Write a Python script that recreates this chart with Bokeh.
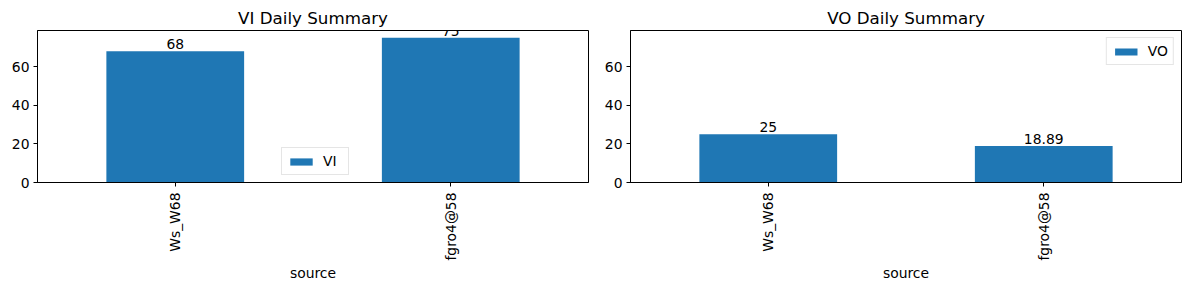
import math
from bokeh.plotting import figure
from bokeh.models import Range1d, FixedTicker, Legend, LegendItem, Label, ColumnDataSource
from bokeh.layouts import row
from bokeh.embed import file_html
from bokeh.resources import INLINE

sources = ["Ws_W68", "fgro4@58"]
vi_values = [68, 75]
vo_values = [25, 18.89]
y_ticks = [0, 20, 40, 60]
y_max = 78.75

FONT = "DejaVu Sans"
BAR = "#1f77b4"


def make(title, values, series, width, bl, br, legend_loc):
    n = len(sources)
    pos = [i + 0.5 for i in range(n)]
    p = figure(width=width, height=290, x_range=Range1d(0, n),
               y_range=Range1d(0, y_max), output_backend="svg", toolbar_location=None,
               min_border_left=bl, min_border_right=br, min_border_top=30, min_border_bottom=108)
    src = ColumnDataSource(dict(x=pos, y=values, name=sources))
    r = p.vbar(x="x", top="y", width=0.5, source=src, color=BAR, line_color=None)
    for x, v in zip(pos, values):
        p.add_layout(Label(x=x, y=v, text="{:g}".format(v),
                           text_align="center", text_baseline="bottom", y_offset=2,
                           text_font=FONT, text_font_size="13.9px", text_color="black"))
    p.title.text = title
    p.title.align = "center"
    p.title.text_font = FONT
    p.title.text_font_size = "16.7px"
    p.title.text_font_style = "normal"
    p.title.text_color = "black"
    p.title.standoff = 5
    p.xgrid.visible = False
    p.ygrid.visible = False
    p.outline_line_color = "black"
    p.outline_line_width = 1
    p.outline_line_alpha = 1
    for ax in (p.xaxis[0], p.yaxis[0]):
        ax.major_tick_in = 0
        ax.major_tick_out = 4
        ax.minor_tick_in = 0
        ax.minor_tick_out = 0
        ax.axis_line_color = "black"
        ax.major_tick_line_color = "black"
        ax.major_label_text_font = FONT
        ax.major_label_text_font_size = "13.9px"
        ax.major_label_text_color = "black"
    p.yaxis.ticker = FixedTicker(ticks=y_ticks)
    p.yaxis.major_label_standoff = 4
    p.xaxis.ticker = FixedTicker(ticks=pos)
    p.xaxis.major_label_overrides = {x: s for x, s in zip(pos, sources)}
    p.xaxis.major_label_orientation = math.pi / 2
    p.xaxis.major_label_standoff = 6
    p.xaxis.axis_label = "source"
    p.xaxis.axis_label_text_font = FONT
    p.xaxis.axis_label_text_font_size = "13.9px"
    p.xaxis.axis_label_text_font_style = "normal"
    p.xaxis.axis_label_text_color = "black"
    p.xaxis.axis_label_standoff = 1
    leg = Legend(items=[LegendItem(label=series, renderers=[r])], location=legend_loc,
                 glyph_width=28, glyph_height=9, label_height=14, padding=5, spacing=0,
                 label_standoff=8, margin=7, label_text_font=FONT, label_text_font_size="13.9px",
                 label_text_color="black", border_line_color="#cccccc", border_line_width=1,
                 background_fill_alpha=0.8)
    p.add_layout(leg, "center")
    return p


p1 = make("VI Daily Summary", vi_values, "VI", 600, 37, 12, (244, 7))
p2 = make("VO Daily Summary", vo_values, "VO", 589, 30, 8, "top_right")

layout = row(p1, p2)
open("out.html", "w").write(file_html(layout, INLINE))
